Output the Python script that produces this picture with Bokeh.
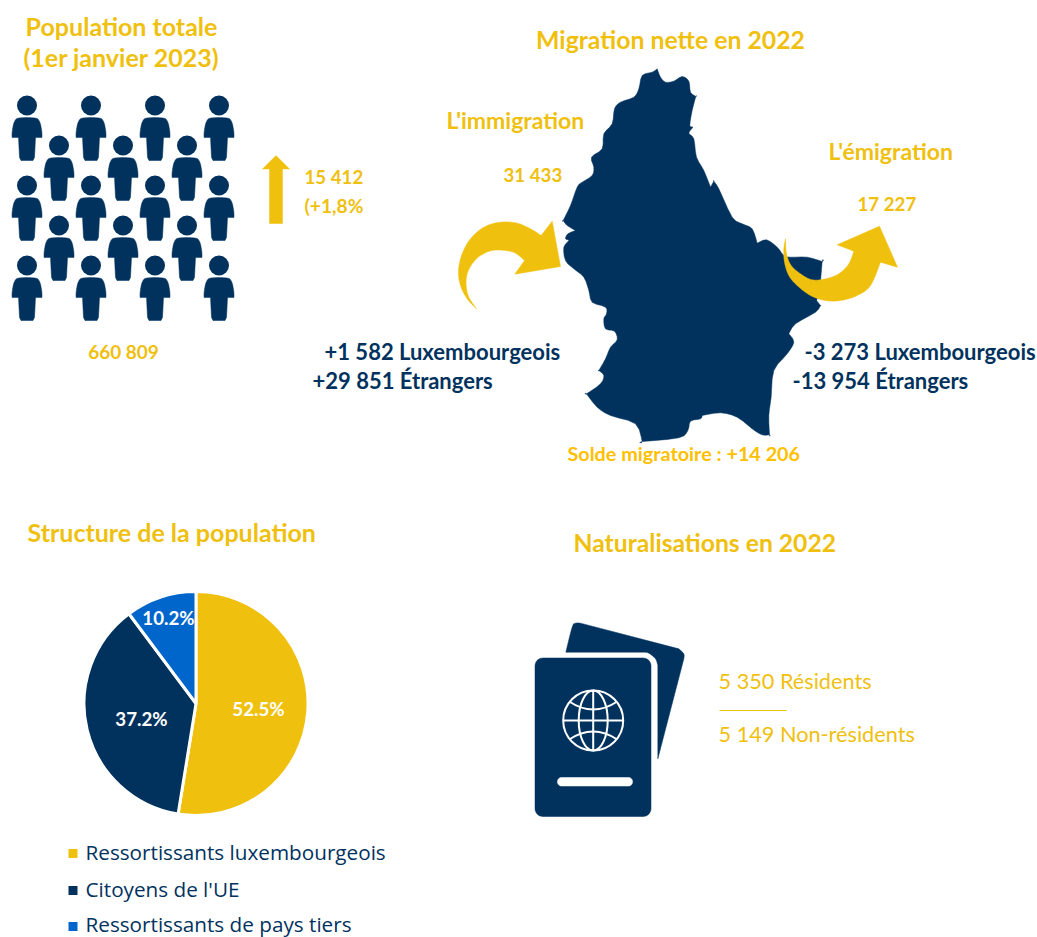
import math
from bokeh.plotting import figure
from bokeh.embed import file_html
from bokeh.resources import INLINE
from bokeh.core.properties import value

GOLD = "#F0C00F"
GOLD2 = "#FFC000"
NAVY = "#01325E"
BLUE = "#0066CC"
HEAD = "Lato"
BODY = "Open Sans"

# ---- data -----------------------------------------------------------------
pie_labels = ["Ressortissants luxembourgeois", "Citoyens de l'UE", "Ressortissants de pays tiers"]
pie_values = [52.5, 37.2, 10.2]
pie_colors = [GOLD, NAVY, BLUE]
pie_texts = ["52.5%", "37.2%", "10.2%"]

population_total = "660 809"
population_growth = ["15 412", "(+1,8%"]
immigration_total = "31 433"
emigration_total = "17 227"
immigration_lines = ["+1 582 Luxembourgeois", "+29 851 Étrangers"]
emigration_lines = ["-3 273 Luxembourgeois", "-13 954 Étrangers"]
net_migration = "Solde migratoire : +14 206"
naturalisations = ["5 350 Résidents", "5 149 Non-résidents"]

W, H = 1037, 937
p = figure(width=W, height=H, x_range=(0, 1037), y_range=(0, 937),
           output_backend="svg", toolbar_location=None,
           x_axis_location=None, y_axis_location=None, min_border=0,
           outline_line_color=None, background_fill_color="white")
p.grid.visible = False


def Y(py):
    return 937 - py


def zoomed(ox, oy, pts):
    return [(ox + a / 3, oy + b / 3) for a, b in pts]


def smooth(pts, n=8):
    """Catmull-Rom through outline points of the decorative icons."""
    out = []
    P = [pts[0]] + list(pts) + [pts[-1]]
    for i in range(1, len(P) - 2):
        p0, p1, p2, p3 = P[i - 1], P[i], P[i + 1], P[i + 2]
        for k in range(n):
            t = k / n
            out.append(tuple(
                0.5 * (2 * p1[c] + (p2[c] - p0[c]) * t
                       + (2 * p0[c] - 5 * p1[c] + 4 * p2[c] - p3[c]) * t * t
                       + (3 * p1[c] - p0[c] - 3 * p2[c] + p3[c]) * t ** 3)
                for c in (0, 1)))
    out.append(pts[-1])
    return out


def shape(pts, color):
    p.patch([a for a, _ in pts], [Y(b) for _, b in pts], fill_color=color, line_color=color, line_width=0.5)


def rrect(x0, y0, x1, y1, r, color):
    pts = []
    for cx, cy, a0 in ((x1 - r, y0 + r, -90), (x1 - r, y1 - r, 0), (x0 + r, y1 - r, 90), (x0 + r, y0 + r, 180)):
        for k in range(9):
            a = math.radians(a0 + k * 90 / 8)
            pts.append((cx + r * math.cos(a), cy + r * math.sin(a)))
    shape(pts, color)


def label(x, y, s, size, color, font=HEAD, style="bold", align="left"):
    p.text([x - 1], [Y(y - 2)], text=[s], text_font=value(font), text_font_size=f"{size}px",
           text_font_style=style, text_color=color, text_align=align, text_baseline="middle")


# ---- people ----------------------------------------------------------------
body = smooth([(-8.5, 32), (-14, 32), (-15, 31), (-14.5, 24), (-12.5, 16), (-8, 12.5), (8, 12.5), (12.5, 16),
               (14.5, 24), (15, 31), (14, 32), (8.5, 32)], 4) + [(7.5, 52), (6, 55), (-6, 55), (-7.5, 52)]
for row, ys in enumerate(([105, 185, 265], [145, 225])):
    for cy in ys:
        for cx in ([26.5, 90.5, 154.5, 218.5] if row == 0 else [58.5, 122.5, 186.5]):
            p.circle([cx], [Y(cy)], radius=10, fill_color=NAVY, line_color=None)
            shape([(cx + a, cy + b) for a, b in body], NAVY)

shape([(269, 223), (269, 168.5), (262, 168.5), (275.5, 155), (289, 168.5), (282, 168.5), (282, 223)], GOLD)

# ---- map -------------------------------------------------------------------
m = (zoomed(440, 60, [(650, 25), (660, 50), (675, 65), (700, 62), (725, 48), (745, 62), (750, 95), (766, 108), (766, 108),
                      (755, 150), (748, 195), (757, 200), (745, 218), (760, 235), (768, 290), (790, 330),
                      (810, 380), (810, 380), (820, 362), (820, 362), (835, 385), (875, 470), (905, 490), (935, 505), (950, 548),
                      (950, 548), (978, 538), (1010, 560), (1030, 585), (1050, 590), (1100, 590), (1145, 603), (1145, 603),
                      (1137, 690), (1128, 720), (1128, 720), (1140, 735), (1140, 735), (1125, 755), (1065, 790), (1045, 820),
                      (1045, 820), (1060, 845)])
     + zoomed(560, 300, [(680, 160), (640, 210), (632, 290), (625, 345), (627, 403), (627, 403), (605, 403), (575, 385),
                         (530, 350), (480, 337), (425, 345), (425, 345), (420, 355), (390, 362), (382, 390), (355, 412),
                         (245, 423), (245, 423), (225, 370), (150, 345), (110, 320), (78, 280), (78, 280), (120, 250), (130, 225),
                         (115, 210), (115, 210), (135, 175), (150, 140), (170, 118), (162, 92), (135, 85), (130, 55),
                         (138, 40), (135, 20)])
     + zoomed(550, 170, [(125, 395), (115, 360), (100, 320), (70, 295), (45, 270), (40, 230), (55, 210), (45, 205),
                         (52, 190), (75, 180), (75, 180), (50, 165), (38, 150), (38, 150), (60, 105), (80, 50), (95, 35), (125, 15)])
     + zoomed(590, 60, [(10, 320), (3, 290), (35, 265), (40, 220), (65, 190), (72, 145), (90, 125), (130, 110),
                        (145, 85), (155, 45), (185, 35)]))
shape(smooth(m + m[:1], 3), NAVY)

# ---- curved arrows ---------------------------------------------------------
left = (smooth(zoomed(450, 210, [(78, 295), (50, 265), (30, 225), (24, 180), (35, 130), (60, 85), (100, 50),
                                 (150, 35), (200, 38), (240, 55), (272, 75)]))
        + zoomed(450, 210, [(305, 32), (330, 168), (193, 191)])
        + smooth(zoomed(450, 210, [(222, 150), (195, 128), (165, 120), (125, 120), (90, 135), (65, 160),
                                   (50, 190), (47, 225), (55, 260), (78, 295)])))
shape(left, GOLD)
right = (smooth(zoomed(770, 210, [(45, 85), (40, 115), (42, 155), (55, 195), (80, 225), (120, 255), (165, 270),
                                  (210, 270), (260, 255), (300, 225), (330, 155)]))
         + zoomed(770, 210, [(381, 170), (327, 47), (200, 103)])
         + smooth(zoomed(770, 210, [(250, 122), (235, 160), (205, 190), (165, 205), (125, 208), (90, 190),
                                    (62, 165), (48, 130), (45, 85)])))
shape(right, GOLD)

# ---- pie -------------------------------------------------------------------
total = sum(pie_values)
cx, cy, R = 195.5, 703, 112
angle = math.pi / 2
for v, c in zip(pie_values, pie_colors):
    end = angle - 2 * math.pi * v / total
    p.wedge([cx], [Y(cy)], radius=R, start_angle=end, end_angle=angle,
            fill_color=c, line_color="white", line_width=3)
    angle = end
for (x, y), s in zip([(259, 710), (142, 720), (169, 619)], pie_texts):
    label(x, y, s, 18.7, "white", align="center")
for (y, y_mark), s, c in zip([(853, 853), (890.5, 890), (925, 926)], pie_labels, pie_colors):
    p.rect([72.5], [Y(y_mark)], width=9, height=9, fill_color=c, line_color=None)
    label(86, y, s, 20.7, NAVY, font=BODY, style="normal")

# ---- passport --------------------------------------------------------------
shape(smooth(zoomed(520, 610, [(136, 125), (155, 50), (165, 38), (180, 38)]), 4)
      + smooth(zoomed(520, 610, [(475, 115), (490, 130), (490, 145)]), 4)
      + zoomed(520, 610, [(412, 445)])
      + smooth(zoomed(520, 610, [(412, 165), (405, 145), (385, 128), (370, 125)]), 4), NAVY)
rrect(534.5, 657.5, 650.5, 816, 8, NAVY)
rrect(557, 777, 632, 785.5, 4, "white")
gx, gy = 592.7, 720
p.circle([gx], [Y(gy)], radius=30, fill_color=None, line_color="white", line_width=2)
p.ellipse([gx], [Y(gy)], width=29, height=60, fill_color=None, line_color="white", line_width=2)
p.segment([gx, gx - 30], [Y(gy - 30), Y(gy)], [gx, gx + 30], [Y(gy + 30), Y(gy)], line_color="white", line_width=2)
p.quadratic([gx - 24, gx - 24], [Y(gy - 19), Y(gy + 19)], [gx + 24, gx + 24], [Y(gy - 19), Y(gy + 19)],
            [gx, gx], [Y(gy - 3), Y(gy + 3)], line_color="white", line_width=2)

# ---- texts -----------------------------------------------------------------
label(122, 27, "Population totale", 25, GOLD, align="center")
label(122, 58, "(1er janvier 2023)", 25, GOLD, align="center")
label(305, 178, population_growth[0], 18.7, GOLD)
label(305, 207, population_growth[1], 19.2, GOLD)
label(124, 353, population_total, 19, GOLD, align="center")
label(671, 41, "Migration nette en 2022", 24.8, GOLD, align="center")
label(447, 121, "L'immigration", 23, GOLD)
label(504, 176, immigration_total, 18.7, GOLD)
label(829, 152, "L'émigration", 23, GOLD)
label(858, 205, emigration_total, 18.7, GOLD)
label(325, 353, immigration_lines[0], 22, NAVY)
label(313, 382, immigration_lines[1], 22, NAVY)
label(805, 353, emigration_lines[0], 22, NAVY)
label(793, 382, emigration_lines[1], 22, NAVY)
label(568, 454, net_migration, 19.8, GOLD2)
label(28, 533, "Structure de la population", 25, GOLD)
label(574, 544, "Naturalisations en 2022", 24.7, GOLD)
label(719, 682, naturalisations[0], 21.7, GOLD, style="normal")
label(719, 735, naturalisations[1], 21.7, GOLD, style="normal")
p.segment([719], [Y(710)], [786], [Y(710)], line_color=GOLD, line_width=1)

open("out.html", "w").write(file_html(p, INLINE))
